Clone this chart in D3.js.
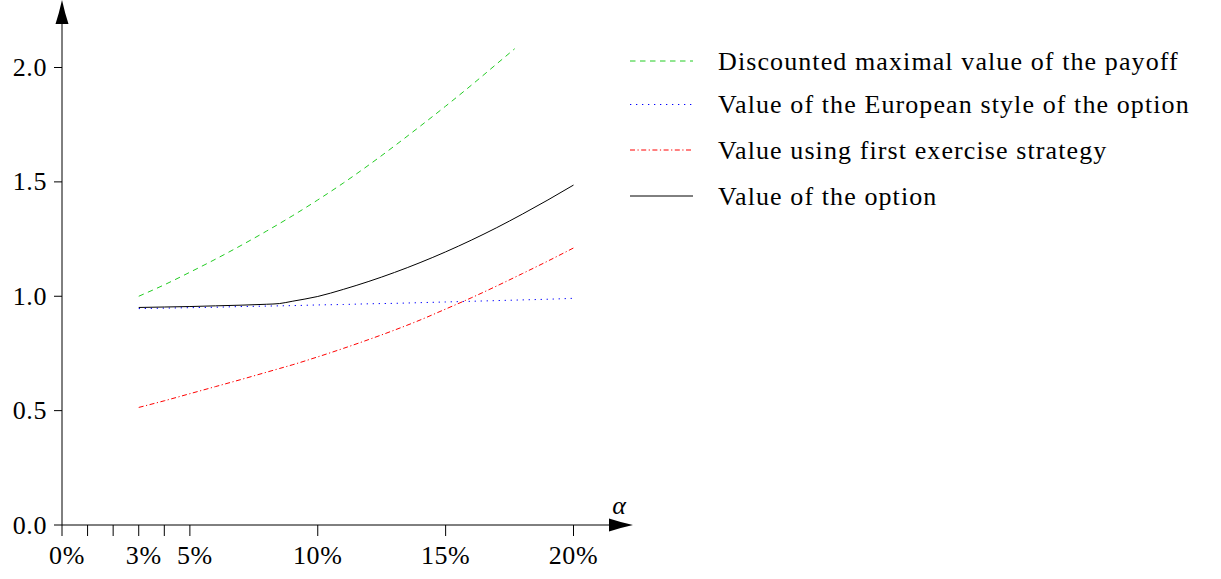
<!DOCTYPE html>
<html>
<head>
<meta charset="utf-8">
<script src="https://cdn.jsdelivr.net/npm/d3@7"></script>
<style>
  html, body { margin: 0; padding: 0; background: #fff; }
  svg { display: block; }
  text { font-family: "Liberation Serif", "DejaVu Serif", serif; fill: #000; }
</style>
</head>
<body>
<svg id="chart" width="1221" height="579"></svg>
<script>
// Interest rate alpha (in %) at which the option values were computed
const alphaPct = [3, 4, 5, 6, 7, 8, 8.5, 9, 10, 11, 12, 13, 14, 15, 16, 17, 18, 19, 20];
// Value of the option
const optionValue = [0.951, 0.953, 0.955, 0.958, 0.961, 0.965, 0.968, 0.978, 0.999, 1.030, 1.065, 1.104, 1.147, 1.194, 1.245, 1.300, 1.359, 1.421, 1.486];
// Value of the European style of the option
const europeanValue = [0.946, 0.948, 0.950, 0.952, 0.955, 0.957, 0.958, 0.959, 0.962, 0.964, 0.967, 0.969, 0.972, 0.975, 0.978, 0.981, 0.984, 0.987, 0.991];
// Value using first exercise strategy
const firstExerciseValue = [0.514, 0.543, 0.574, 0.605, 0.636, 0.668, 0.684, 0.700, 0.735, 0.772, 0.811, 0.852, 0.896, 0.944, 0.993, 1.045, 1.099, 1.154, 1.211];
// Discounted maximal value of the payoff (computed up to 17.7 %)
const payoffAlphaPct = [3, 4, 5, 6, 7, 8, 9, 10, 11, 12, 13, 14, 15, 16, 17, 17.7];
const payoffValue = [1.000, 1.050, 1.105, 1.162, 1.222, 1.285, 1.351, 1.421, 1.495, 1.574, 1.657, 1.743, 1.831, 1.922, 2.016, 2.082];

const xTicks = [0, 1, 2, 3, 4, 5, 10, 15, 20];
const xTickLabels = [0, 3, 5, 10, 15, 20];
const yTicks = [0, 0.5, 1.0, 1.5, 2.0];

const legendLabels = [
  "Discounted maximal value of the payoff",
  "Value of the European style of the option",
  "Value using first exercise strategy",
  "Value of the option"
];

const svg = d3.select("#chart");

const x = d3.scaleLinear().domain([0, 20]).range([62, 573.5]);
const y = d3.scaleLinear().domain([0, 2]).range([525, 67.5]);

// Series definitions
const series = [
  { xs: payoffAlphaPct, ys: payoffValue, color: "#22cc22", dash: "5.5,4.5" },
  { xs: alphaPct, ys: europeanValue, color: "#0000ff", dash: "1.3,4.7" },
  { xs: alphaPct, ys: firstExerciseValue, color: "#ff0000", dash: "5,2.5,1.2,2.5" },
  { xs: alphaPct, ys: optionValue, color: "#000000", dash: null }
];

const line = d3.line()
  .x(d => x(d[0]))
  .y(d => y(d[1]))
  .curve(d3.curveMonotoneX);

const plot = svg.append("g");
series.forEach(s => {
  plot.append("path")
    .datum(s.xs.map((v, i) => [v, s.ys[i]]))
    .attr("fill", "none")
    .attr("stroke", s.color)
    .attr("stroke-width", 1)
    .attr("stroke-dasharray", s.dash)
    .attr("d", line);
});

// Axes
const axisG = svg.append("g").attr("stroke", "#000").attr("stroke-width", 1);
const x0 = x(0), y0 = y(0);
axisG.append("line").attr("x1", x0).attr("x2", 612).attr("y1", y0).attr("y2", y0);
axisG.append("line").attr("x1", x0).attr("x2", x0).attr("y1", y0).attr("y2", 18);

// LaTeX-style arrow tips
function arrowTip(tx, ty, dir) {
  const len = 24, hw = 6.5;
  let p;
  if (dir === "right") {
    p = `M${tx},${ty} Q${tx - len * 0.55},${ty - hw * 0.45} ${tx - len},${ty - hw} L${tx - len},${ty + hw} Q${tx - len * 0.55},${ty + hw * 0.45} ${tx},${ty} Z`;
  } else {
    p = `M${tx},${ty} Q${tx - hw * 0.45},${ty + len * 0.55} ${tx - hw},${ty + len} L${tx + hw},${ty + len} Q${tx + hw * 0.45},${ty + len * 0.55} ${tx},${ty} Z`;
  }
  svg.append("path").attr("d", p).attr("fill", "#000");
}
arrowTip(633, y0, "right");
arrowTip(x0, 0, "up");

// X ticks
axisG.selectAll(".xt").data(xTicks).enter().append("line")
  .attr("x1", d => x(d)).attr("x2", d => x(d))
  .attr("y1", y0).attr("y2", y0 + 11);

svg.selectAll(".xl").data(xTickLabels).enter().append("text")
  .attr("x", d => x(d) + (d < 10 ? 5 : 0))
  .attr("y", 564)
  .attr("text-anchor", "middle")
  .attr("font-size", 26)
  .attr("letter-spacing", 0.6)
  .text(d => d + "%");

// Y ticks
axisG.selectAll(".yt").data(yTicks).enter().append("line")
  .attr("x1", x0 - 8).attr("x2", x0)
  .attr("y1", d => y(d)).attr("y2", d => y(d));

svg.selectAll(".yl").data(yTicks).enter().append("text")
  .attr("x", 47)
  .attr("y", d => y(d) + 8.5)
  .attr("text-anchor", "end")
  .attr("font-size", 26)
  .attr("letter-spacing", 0.6)
  .text(d => d.toFixed(1));

// Axis label
svg.append("text")
  .attr("x", 619).attr("y", 514)
  .attr("text-anchor", "middle")
  .attr("font-size", 26)
  .attr("font-style", "italic")
  .text("α");

// Legend
const legendYs = [61, 104.5, 150, 196];
const legend = svg.append("g");
series.forEach((s, i) => {
  legend.append("line")
    .attr("x1", 630).attr("x2", 693)
    .attr("y1", legendYs[i]).attr("y2", legendYs[i])
    .attr("stroke", s.color)
    .attr("stroke-width", 1)
    .attr("stroke-dasharray", s.dash);
  legend.append("text")
    .attr("x", 718)
    .attr("y", legendYs[i] + 8.5)
    .attr("font-size", 26)
    .attr("letter-spacing", 1.1)
    .text(legendLabels[i]);
});
</script>
</body>
</html>
